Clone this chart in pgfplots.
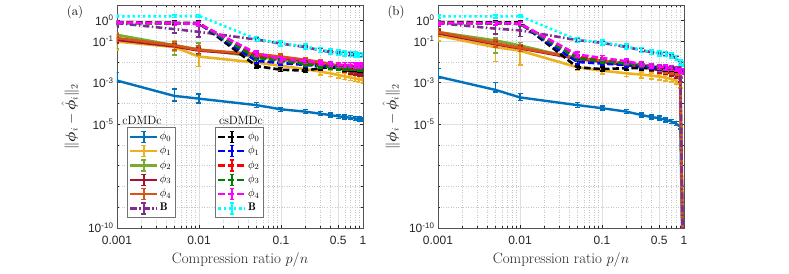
\documentclass[border=0pt]{standalone}
\usepackage{pgfplots}
\pgfplotsset{compat=1.18}
\usepackage{fontspec}
\usepackage{amsmath,bm}
\newfontfamily\ticksf{Liberation Sans}
\definecolor{m1}{rgb}{0,0.447,0.741}
\definecolor{m2}{rgb}{0.929,0.694,0.125}
\definecolor{m3}{rgb}{0.466,0.674,0.188}
\definecolor{m4}{rgb}{0.635,0.078,0.184}
\definecolor{m5}{rgb}{0.85,0.325,0.098}
\definecolor{m6}{rgb}{0.494,0.184,0.556}
\definecolor{sk}{rgb}{0,0,0}
\definecolor{sb}{rgb}{0,0,1}
\definecolor{sr}{rgb}{1,0,0}
\definecolor{sg}{rgb}{0,0.5,0}
\definecolor{sm}{rgb}{1,0,1}
\definecolor{sc}{rgb}{0,1,1}
\definecolor{axgray}{rgb}{0.15,0.15,0.15}
\tikzset{
  lc/.style={line width=2.6pt, solid},
  ld/.style={line width=2.6pt, dash pattern=on 6.5pt off 3pt},
  ldd/.style={line width=2.6pt, dash pattern=on 6.5pt off 2.5pt on 1.5pt off 2.5pt},
  ldot/.style={line width=2.6pt, dash pattern=on 2.4pt off 2.8pt},
}
\pgfplotsset{legend image code/.code={%
  \draw[#1, line width=2.3pt] (0pt,0pt) -- (27pt,0pt);
  \draw[#1, solid, line width=1.5pt] (13.5pt,-5.5pt) -- (13.5pt,5.5pt) (11.2pt,-5.5pt) -- (15.8pt,-5.5pt) (11.2pt,5.5pt) -- (15.8pt,5.5pt);
}}
\begin{document}
\begin{tikzpicture}
\useasboundingbox (0pt,0pt) rectangle (789pt,273pt);
% ================= panel (a) =================
\begin{axis}[at={(117pt,45pt)}, anchor=south west,
    width=246pt, height=223pt, scale only axis,
    xmode=log, ymode=log, xmin=0.001, xmax=1, ymin=1e-10, ymax=5.5,
    xtick={0.001,0.01,0.1,0.5,1}, xticklabels={0.001,0.01,0.1,0.5,1},
    ytick={1e-10,1e-5,1e-3,1e-1,1},
    yticklabels={10\textsuperscript{-10},10\textsuperscript{-5},10\textsuperscript{-3},10\textsuperscript{-1},10\textsuperscript{0}},
    minor xtick={0.002,0.003,0.004,0.005,0.006,0.007,0.008,0.009,0.02,0.03,0.04,0.05,0.06,0.07,0.08,0.09,0.2,0.3,0.4,0.6,0.7,0.8,0.9},
    minor ytick={1e-9,1e-8,1e-7,1e-6,1e-4,1e-2},
    grid=both,
    major grid style={black!12, line width=0.5pt},
    minor grid style={black!22, line width=0.5pt, dash pattern=on 0.7pt off 1.8pt},
    tick align=inside, major tick length=3.5pt, minor tick length=2pt,
    tick style={axgray, line width=0.5pt},
    axis line style={axgray!80, line width=0.6pt},
    tick label style={font=\ticksf\fontsize{12}{12}\selectfont, text=axgray},
    xticklabel style={yshift=-5pt},
    xlabel={Compression ratio $p/n$},
    xlabel style={font=\fontsize{15}{16}\selectfont, text=axgray, at={(axis description cs:0.5,0)}, anchor=center, yshift=-32pt},
    ylabel={$\|\bm{\phi}_i-\hat{\bm{\phi}}_i\|_2$},
    ylabel style={font=\fontsize{14}{15}\selectfont, text=axgray, at={(axis description cs:-0.19,0.5)}, anchor=center},
    error bars/y dir=both, error bars/y explicit relative,
    error bars/error bar style={solid, line width=1.5pt},
    error bars/error mark options={rotate=90, solid, line width=1.5pt, mark size=2.5pt},
    legend style={draw=black!55, fill=white, line width=0.6pt, font=\fontsize{11}{11}\selectfont,
      inner xsep=2pt, inner ysep=3pt, row sep=1.8pt,
      nodes={inner xsep=1.5pt, inner ysep=0pt, text height=8pt, text depth=3pt, text width=12pt},
      at={(axis description cs:0.04,0.045)}, anchor=south west},
    legend cell align=left,
]
\addplot[m1, lc, line width=2.4pt] table[row sep=\\, y error plus=p, y error minus=m] {
x y p m\\ 0.001 1.26e-3 1.5 0.2\\ 0.005 2.3e-4 1.1 0.42\\ 0.01 1.7e-4 0.66 0.37\\ 0.05 8.3e-5 0.35 0.25\\
0.1 5.2e-5 0.25 0.2\\ 0.2 4.0e-5 0.25 0.2\\ 0.3 3.2e-5 0.25 0.2\\ 0.4 2.75e-5 0.25 0.2\\ 0.5 2.4e-5 0.25 0.2\\
0.6 2.2e-5 0.25 0.2\\ 0.7 2.05e-5 0.25 0.2\\ 0.8 1.9e-5 0.25 0.2\\ 0.9 1.78e-5 0.25 0.2\\ 1 1.7e-5 0.25 0.2\\};
\addplot[m2, lc] table[row sep=\\, y error plus=p, y error minus=m] {
x y p m\\ 0.001 9.5e-2 0.5 0.6\\ 0.005 5.2e-2 1.0 0.4\\ 0.01 1.8e-2 1.2 0.67\\ 0.05 9.3e-3 0.3 0.3\\
0.1 6.5e-3 0.3 0.3\\ 0.2 4.5e-3 0.3 0.3\\ 0.3 3.4e-3 0.35 0.3\\ 0.4 2.8e-3 0.35 0.3\\ 0.5 2.35e-3 0.35 0.3\\
0.6 2.0e-3 0.35 0.3\\ 0.7 1.78e-3 0.35 0.3\\ 0.8 1.6e-3 0.35 0.3\\ 0.9 1.45e-3 0.35 0.3\\ 1 1.35e-3 0.35 0.3\\};
\addplot[m3, lc] table[row sep=\\, y error plus=p, y error minus=m] {
x y p m\\ 0.001 2.0e-1 0.3 0.78\\ 0.005 6.3e-2 0.4 0.65\\ 0.01 4.0e-2 1.0 0.5\\ 0.05 1.78e-2 0.3 0.3\\
0.1 1.26e-2 0.3 0.25\\ 0.2 8.9e-3 0.3 0.25\\ 0.3 7.1e-3 0.3 0.25\\ 0.4 5.6e-3 0.3 0.25\\ 0.5 5.0e-3 0.3 0.25\\
0.6 4.5e-3 0.3 0.25\\ 0.7 4.0e-3 0.3 0.25\\ 0.8 3.8e-3 0.3 0.25\\ 0.9 3.55e-3 0.3 0.25\\ 1 3.4e-3 0.3 0.25\\};
\addplot[m4, lc] table[row sep=\\, y error plus=p, y error minus=m] {
x y p m\\ 0.001 1.15e-1 0.4 0.3\\ 0.005 5.6e-2 0.3 0.3\\ 0.01 3.5e-2 0.3 0.3\\ 0.05 2.2e-2 0.3 0.25\\
0.1 1.6e-2 0.3 0.25\\ 0.2 1.1e-2 0.3 0.25\\ 0.3 7.9e-3 0.3 0.25\\ 0.4 6.3e-3 0.3 0.25\\ 0.5 5.0e-3 0.3 0.25\\
0.6 4.2e-3 0.3 0.25\\ 0.7 3.5e-3 0.3 0.25\\ 0.8 3.2e-3 0.3 0.25\\ 0.9 2.8e-3 0.3 0.25\\ 1 2.6e-3 0.3 0.25\\};
\addplot[m5, lc] table[row sep=\\, y error plus=p, y error minus=m] {
x y p m\\ 0.001 1.4e-1 0.6 0.3\\ 0.005 6.3e-2 0.5 0.4\\ 0.01 3.8e-2 0.5 0.4\\ 0.05 2.4e-2 0.3 0.25\\
0.1 1.8e-2 0.3 0.25\\ 0.2 1.26e-2 0.3 0.25\\ 0.3 1.0e-2 0.3 0.25\\ 0.4 7.9e-3 0.3 0.25\\ 0.5 6.6e-3 0.3 0.25\\
0.6 5.9e-3 0.3 0.25\\ 0.7 5.2e-3 0.3 0.25\\ 0.8 4.8e-3 0.3 0.25\\ 0.9 4.4e-3 0.3 0.25\\ 1 4.1e-3 0.3 0.25\\};
\addplot[m6, ldd] table[row sep=\\, y error plus=p, y error minus=m] {
x y p m\\ 0.001 7.4e-1 0.3 0.35\\ 0.005 3.8e-1 0.9 0.35\\ 0.01 2.8e-1 1.2 0.45\\ 0.05 1.2e-1 0.2 0.2\\
0.1 7.6e-2 0.2 0.2\\ 0.2 5.2e-2 0.2 0.2\\ 0.3 3.6e-2 0.2 0.2\\ 0.4 3.0e-2 0.2 0.2\\ 0.5 2.7e-2 0.2 0.2\\
0.6 2.5e-2 0.2 0.2\\ 0.7 2.35e-2 0.2 0.2\\ 0.8 2.2e-2 0.2 0.2\\ 0.9 2.1e-2 0.2 0.2\\ 1 2.05e-2 0.2 0.2\\};
% csDMDc
\addplot[sk, ld] table[row sep=\\, y error plus=p, y error minus=m] {
x y p m\\ 0.001 8.3e-1 0.2 0.2\\ 0.005 7.6e-1 0.2 0.2\\ 0.01 7.6e-1 0.2 0.2\\ 0.05 6.3e-3 0.25 0.2\\
0.1 4.2e-3 0.25 0.2\\ 0.2 3.8e-3 0.25 0.2\\ 0.3 5.0e-3 0.25 0.2\\ 0.4 5.6e-3 0.25 0.2\\ 0.5 5.0e-3 0.25 0.2\\
0.6 4.5e-3 0.25 0.2\\ 0.7 4.5e-3 0.25 0.2\\ 0.8 4.2e-3 0.25 0.2\\ 0.9 4.0e-3 0.25 0.2\\ 1 4.0e-3 0.25 0.2\\};
\addplot[sb, ld] table[row sep=\\, y error plus=p, y error minus=m] {
x y p m\\ 0.001 7.6e-1 0.2 0.2\\ 0.005 7.2e-1 0.2 0.2\\ 0.01 6.9e-1 0.2 0.2\\ 0.05 1.12e-2 0.25 0.2\\
0.1 8.9e-3 0.25 0.2\\ 0.2 7.1e-3 0.25 0.2\\ 0.3 6.3e-3 0.25 0.2\\ 0.4 6.0e-3 0.25 0.2\\ 0.5 5.6e-3 0.25 0.2\\
0.6 5.2e-3 0.25 0.2\\ 0.7 5.0e-3 0.25 0.2\\ 0.8 5.0e-3 0.25 0.2\\ 0.9 4.8e-3 0.25 0.2\\ 1 4.7e-3 0.25 0.2\\};
\addplot[sr, ld] table[row sep=\\, y error plus=p, y error minus=m] {
x y p m\\ 0.001 7.8e-1 0.2 0.2\\ 0.005 7.2e-1 0.2 0.2\\ 0.01 6.9e-1 0.2 0.2\\ 0.05 2.0e-2 0.25 0.2\\
0.1 1.26e-2 0.25 0.2\\ 0.2 8.9e-3 0.25 0.2\\ 0.3 7.1e-3 0.25 0.2\\ 0.4 6.3e-3 0.25 0.2\\ 0.5 6.0e-3 0.25 0.2\\
0.6 5.6e-3 0.25 0.2\\ 0.7 5.4e-3 0.25 0.2\\ 0.8 5.2e-3 0.25 0.2\\ 0.9 5.0e-3 0.25 0.2\\ 1 5.0e-3 0.25 0.2\\};
\addplot[sg, ld] table[row sep=\\, y error plus=p, y error minus=m] {
x y p m\\ 0.001 7.6e-1 0.2 0.2\\ 0.005 7.1e-1 0.2 0.2\\ 0.01 6.8e-1 0.2 0.2\\ 0.05 1.58e-2 0.25 0.2\\
0.1 1.12e-2 0.25 0.2\\ 0.2 7.9e-3 0.25 0.2\\ 0.3 6.3e-3 0.25 0.2\\ 0.4 5.6e-3 0.25 0.2\\ 0.5 5.2e-3 0.25 0.2\\
0.6 5.0e-3 0.25 0.2\\ 0.7 4.8e-3 0.25 0.2\\ 0.8 4.7e-3 0.25 0.2\\ 0.9 4.5e-3 0.25 0.2\\ 1 4.5e-3 0.25 0.2\\};
\addplot[sm, ld] table[row sep=\\, y error plus=p, y error minus=m] {
x y p m\\ 0.001 7.9e-1 0.2 0.2\\ 0.005 7.2e-1 0.2 0.2\\ 0.01 6.8e-1 0.2 0.2\\ 0.05 2.6e-2 0.3 0.25\\
0.1 1.35e-2 0.3 0.25\\ 0.2 1.12e-2 0.3 0.25\\ 0.3 8.7e-3 0.3 0.25\\ 0.4 7.8e-3 0.3 0.25\\ 0.5 7.2e-3 0.3 0.25\\
0.6 7.1e-3 0.3 0.25\\ 0.7 7.1e-3 0.3 0.25\\ 0.8 6.9e-3 0.3 0.25\\ 0.9 6.9e-3 0.3 0.25\\ 1 7.1e-3 0.3 0.25\\};
\addplot[sc, ldot] table[row sep=\\, y error plus=p, y error minus=m] {
x y p m\\ 0.001 1.58 0.15 0.15\\ 0.005 1.58 0.15 0.15\\ 0.01 1.66 0.15 0.15\\ 0.05 1.26e-1 0.3 0.25\\
0.1 7.9e-2 0.3 0.25\\ 0.2 5.5e-2 0.3 0.25\\ 0.3 3.8e-2 0.3 0.25\\ 0.4 3.2e-2 0.3 0.25\\ 0.5 2.8e-2 0.3 0.25\\
0.6 2.6e-2 0.3 0.25\\ 0.7 2.4e-2 0.3 0.25\\ 0.8 2.35e-2 0.3 0.25\\ 0.9 2.2e-2 0.3 0.25\\ 1 2.2e-2 0.3 0.25\\};
\legend{$\phi_0$,$\phi_1$,$\phi_2$,$\phi_3$,$\phi_4$,$\mathbf{B}$}
\end{axis}
% second legend (csDMDc)
\begin{axis}[at={(117pt,45pt)}, anchor=south west, hide axis,
    width=246pt, height=223pt, scale only axis,
    xmode=log, ymode=log, xmin=0.001, xmax=1, ymin=1e-10, ymax=5.5,
    legend style={draw=black!55, fill=white, line width=0.6pt, font=\fontsize{11}{11}\selectfont,
      inner xsep=2pt, inner ysep=3pt, row sep=1.8pt,
      nodes={inner xsep=1.5pt, inner ysep=0pt, text height=8pt, text depth=3pt, text width=12pt},
      at={(axis description cs:0.398,0.045)}, anchor=south west},
    legend cell align=left,
]
\addlegendimage{sk, ld}
\addlegendimage{sb, ld}
\addlegendimage{sr, ld}
\addlegendimage{sg, ld}
\addlegendimage{sm, ld}
\addlegendimage{sc, ldot}
\legend{$\phi_0$,$\phi_1$,$\phi_2$,$\phi_3$,$\phi_4$,$\mathbf{B}$}
\end{axis}
\node[font=\fontsize{12}{12}\selectfont] at (142pt,153pt) {cDMDc};
\node[font=\fontsize{12}{12}\selectfont] at (241pt,153pt) {csDMDc};
\node[font=\fontsize{13}{13}\selectfont] at (75pt,261pt) {(a)};
\node[font=\fontsize{13}{13}\selectfont] at (396pt,261pt) {(b)};
% ================= panel (b) =================
\begin{axis}[at={(438pt,45pt)}, anchor=south west,
    width=246pt, height=223pt, scale only axis,
    xmode=log, ymode=log, xmin=0.001, xmax=1, ymin=1e-10, ymax=5.5,
    xtick={0.001,0.01,0.1,0.5,1}, xticklabels={0.001,0.01,0.1,0.5,1},
    ytick={1e-10,1e-5,1e-3,1e-1,1},
    yticklabels={10\textsuperscript{-10},10\textsuperscript{-5},10\textsuperscript{-3},10\textsuperscript{-1},10\textsuperscript{0}},
    minor xtick={0.002,0.003,0.004,0.005,0.006,0.007,0.008,0.009,0.02,0.03,0.04,0.05,0.06,0.07,0.08,0.09,0.2,0.3,0.4,0.6,0.7,0.8,0.9},
    minor ytick={1e-9,1e-8,1e-7,1e-6,1e-4,1e-2},
    grid=both,
    major grid style={black!12, line width=0.5pt},
    minor grid style={black!22, line width=0.5pt, dash pattern=on 0.7pt off 1.8pt},
    tick align=inside, major tick length=3.5pt, minor tick length=2pt,
    tick style={axgray, line width=0.5pt},
    axis line style={axgray!80, line width=0.6pt},
    tick label style={font=\ticksf\fontsize{12}{12}\selectfont, text=axgray},
    xticklabel style={yshift=-5pt},
    xlabel={Compression ratio $p/n$},
    xlabel style={font=\fontsize{15}{16}\selectfont, text=axgray, at={(axis description cs:0.5,0)}, anchor=center, yshift=-32pt},
    ylabel={$\|\bm{\phi}_i-\hat{\bm{\phi}}_i\|_2$},
    ylabel style={font=\fontsize{14}{15}\selectfont, text=axgray, at={(axis description cs:-0.19,0.5)}, anchor=center},
    error bars/y dir=both, error bars/y explicit relative,
    error bars/error bar style={solid, line width=1.5pt},
    error bars/error mark options={rotate=90, solid, line width=1.5pt, mark size=2.5pt},
]
\addplot[m1, lc, line width=2.4pt] table[row sep=\\, y error plus=p, y error minus=m] {
x y p m\\ 0.001 1.95e-3 1.5 0.2\\ 0.005 4.5e-4 1.3 0.2\\ 0.01 1.95e-4 0.5 0.3\\ 0.05 8.3e-5 0.3 0.25\\
0.1 5.9e-5 0.25 0.2\\ 0.2 4.0e-5 0.25 0.2\\ 0.3 2.8e-5 0.25 0.2\\ 0.4 2.2e-5 0.25 0.2\\ 0.5 1.95e-5 0.25 0.2\\
0.6 1.6e-5 0.25 0.2\\ 0.7 1.35e-5 0.25 0.2\\ 0.8 1.07e-5 0.25 0.2\\ 0.9 7.4e-6 0.25 0.2\\ 1 1e-15 0 0\\};
\addplot[m2, lc] table[row sep=\\, y error plus=p, y error minus=m] {
x y p m\\ 0.001 1.86e-1 0.3 0.45\\ 0.005 5.1e-2 0.3 0.8\\ 0.01 3.5e-2 0.3 0.8\\ 0.05 5.5e-3 0.35 0.3\\
0.1 3.8e-3 0.35 0.3\\ 0.2 2.8e-3 0.35 0.3\\ 0.3 2.45e-3 0.35 0.3\\ 0.4 2.2e-3 0.35 0.3\\ 0.5 1.95e-3 0.35 0.3\\
0.6 1.74e-3 0.35 0.3\\ 0.7 1.5e-3 0.35 0.3\\ 0.8 1.26e-3 0.35 0.3\\ 0.9 8e-4 0.35 0.3\\ 1 1e-15 0 0\\};
\addplot[m3, lc] table[row sep=\\, y error plus=p, y error minus=m] {
x y p m\\ 0.001 2.75e-1 0.4 0.4\\ 0.005 1.07e-1 0.3 0.75\\ 0.01 6.2e-2 0.4 0.5\\ 0.05 1.4e-2 0.3 0.25\\
0.1 1.07e-2 0.3 0.25\\ 0.2 8.3e-3 0.3 0.25\\ 0.3 7.1e-3 0.3 0.25\\ 0.4 6.3e-3 0.3 0.25\\ 0.5 5.6e-3 0.3 0.25\\
0.6 5.0e-3 0.3 0.25\\ 0.7 4.5e-3 0.3 0.25\\ 0.8 3.8e-3 0.3 0.25\\ 0.9 2.5e-3 0.3 0.25\\ 1 1e-15 0 0\\};
\addplot[m4, lc] table[row sep=\\, y error plus=p, y error minus=m] {
x y p m\\ 0.001 2.4e-1 0.4 0.3\\ 0.005 7.1e-2 0.3 0.3\\ 0.01 4.5e-2 0.3 0.3\\ 0.05 1.4e-2 0.3 0.25\\
0.1 1.0e-2 0.3 0.25\\ 0.2 7.1e-3 0.3 0.25\\ 0.3 5.6e-3 0.3 0.25\\ 0.4 4.7e-3 0.3 0.25\\ 0.5 4.0e-3 0.3 0.25\\
0.6 3.3e-3 0.3 0.25\\ 0.7 2.8e-3 0.3 0.25\\ 0.8 2.2e-3 0.3 0.25\\ 0.9 1.4e-3 0.3 0.25\\ 1 1e-15 0 0\\};
\addplot[m5, lc] table[row sep=\\, y error plus=p, y error minus=m] {
x y p m\\ 0.001 2.75e-1 0.5 0.4\\ 0.005 7.9e-2 0.4 0.35\\ 0.01 4.8e-2 0.4 0.35\\ 0.05 1.55e-2 0.3 0.25\\
0.1 1.15e-2 0.3 0.25\\ 0.2 7.9e-3 0.3 0.25\\ 0.3 6.2e-3 0.3 0.25\\ 0.4 5.2e-3 0.3 0.25\\ 0.5 4.6e-3 0.3 0.25\\
0.6 4.0e-3 0.3 0.25\\ 0.7 3.5e-3 0.3 0.25\\ 0.8 3.0e-3 0.3 0.25\\ 0.9 2.2e-3 0.3 0.25\\ 1 1e-15 0 0\\};
\addplot[m6, ldd] table[row sep=\\, y error plus=p, y error minus=m] {
x y p m\\ 0.001 7.4e-1 0.3 0.3\\ 0.005 4.0e-1 0.5 0.45\\ 0.01 3.3e-1 0.7 0.5\\ 0.05 1.12e-1 0.2 0.2\\
0.1 8.3e-2 0.2 0.2\\ 0.2 5.2e-2 0.2 0.2\\ 0.3 3.7e-2 0.2 0.2\\ 0.4 2.9e-2 0.2 0.2\\ 0.5 2.6e-2 0.2 0.2\\
0.6 2.35e-2 0.2 0.2\\ 0.7 2.0e-2 0.2 0.2\\ 0.8 1.5e-2 0.2 0.2\\ 0.9 9.3e-3 0.2 0.2\\ 1 1e-15 0 0\\};
% csDMDc
\addplot[sk, ld] table[row sep=\\, y error plus=p, y error minus=m] {
x y p m\\ 0.001 8.3e-1 0.2 0.2\\ 0.005 7.9e-1 0.2 0.2\\ 0.01 7.9e-1 0.2 0.2\\ 0.05 5.5e-3 0.25 0.2\\
0.1 4.5e-3 0.25 0.2\\ 0.2 5.0e-3 0.25 0.2\\ 0.3 5.0e-3 0.25 0.2\\ 0.4 5.0e-3 0.25 0.2\\ 0.5 4.8e-3 0.25 0.2\\
0.6 4.5e-3 0.25 0.2\\ 0.7 4.2e-3 0.25 0.2\\ 0.8 4.0e-3 0.25 0.2\\ 0.9 3.55e-3 0.25 0.2\\ 1 3.2e-3 0.25 0.2\\};
\addplot[sb, ld] table[row sep=\\, y error plus=p, y error minus=m] {
x y p m\\ 0.001 7.6e-1 0.2 0.2\\ 0.005 7.2e-1 0.2 0.2\\ 0.01 6.9e-1 0.2 0.2\\ 0.05 1.0e-2 0.25 0.2\\
0.1 8.3e-3 0.25 0.2\\ 0.2 7.1e-3 0.25 0.2\\ 0.3 6.3e-3 0.25 0.2\\ 0.4 5.6e-3 0.25 0.2\\ 0.5 5.2e-3 0.25 0.2\\
0.6 5.0e-3 0.25 0.2\\ 0.7 4.7e-3 0.25 0.2\\ 0.8 4.2e-3 0.25 0.2\\ 0.9 3.6e-3 0.25 0.2\\ 1 3.3e-3 0.25 0.2\\};
\addplot[sr, ld] table[row sep=\\, y error plus=p, y error minus=m] {
x y p m\\ 0.001 7.8e-1 0.2 0.2\\ 0.005 7.2e-1 0.2 0.2\\ 0.01 6.9e-1 0.2 0.2\\ 0.05 1.8e-2 0.25 0.2\\
0.1 1.26e-2 0.25 0.2\\ 0.2 8.9e-3 0.25 0.2\\ 0.3 7.1e-3 0.25 0.2\\ 0.4 6.3e-3 0.25 0.2\\ 0.5 5.8e-3 0.25 0.2\\
0.6 5.4e-3 0.25 0.2\\ 0.7 5.0e-3 0.25 0.2\\ 0.8 4.5e-3 0.25 0.2\\ 0.9 3.8e-3 0.25 0.2\\ 1 3.5e-3 0.25 0.2\\};
\addplot[sg, ld] table[row sep=\\, y error plus=p, y error minus=m] {
x y p m\\ 0.001 7.6e-1 0.2 0.2\\ 0.005 7.1e-1 0.2 0.2\\ 0.01 6.8e-1 0.2 0.2\\ 0.05 1.5e-2 0.25 0.2\\
0.1 1.1e-2 0.25 0.2\\ 0.2 8.3e-3 0.25 0.2\\ 0.3 6.9e-3 0.25 0.2\\ 0.4 6.0e-3 0.25 0.2\\ 0.5 5.5e-3 0.25 0.2\\
0.6 5.2e-3 0.25 0.2\\ 0.7 4.9e-3 0.25 0.2\\ 0.8 4.4e-3 0.25 0.2\\ 0.9 3.7e-3 0.25 0.2\\ 1 3.4e-3 0.25 0.2\\};
\addplot[sm, ld] table[row sep=\\, y error plus=p, y error minus=m] {
x y p m\\ 0.001 7.4e-1 0.2 0.2\\ 0.005 7.4e-1 0.2 0.2\\ 0.01 6.9e-1 0.2 0.2\\ 0.05 2.25e-2 0.3 0.25\\
0.1 1.55e-2 0.3 0.25\\ 0.2 1.07e-2 0.3 0.25\\ 0.3 7.9e-3 0.3 0.25\\ 0.4 6.6e-3 0.3 0.25\\ 0.5 5.9e-3 0.3 0.25\\
0.6 5.5e-3 0.3 0.25\\ 0.7 5.2e-3 0.3 0.25\\ 0.8 4.6e-3 0.3 0.25\\ 0.9 3.8e-3 0.3 0.25\\ 1 3.55e-3 0.3 0.25\\};
\addplot[sc, ldot] table[row sep=\\, y error plus=p, y error minus=m] {
x y p m\\ 0.001 1.55 0.15 0.15\\ 0.005 1.55 0.15 0.15\\ 0.01 1.62 0.15 0.15\\ 0.05 1.15e-1 0.3 0.25\\
0.1 8.9e-2 0.3 0.25\\ 0.2 5.5e-2 0.3 0.25\\ 0.3 3.8e-2 0.3 0.25\\ 0.4 2.95e-2 0.3 0.25\\ 0.5 2.6e-2 0.3 0.25\\
0.6 2.45e-2 0.3 0.25\\ 0.7 2.05e-2 0.3 0.25\\ 0.8 1.55e-2 0.3 0.25\\ 0.9 9.5e-3 0.3 0.25\\ 1 7.9e-3 0.3 0.25\\};
\end{axis}
\end{tikzpicture}
\end{document}
